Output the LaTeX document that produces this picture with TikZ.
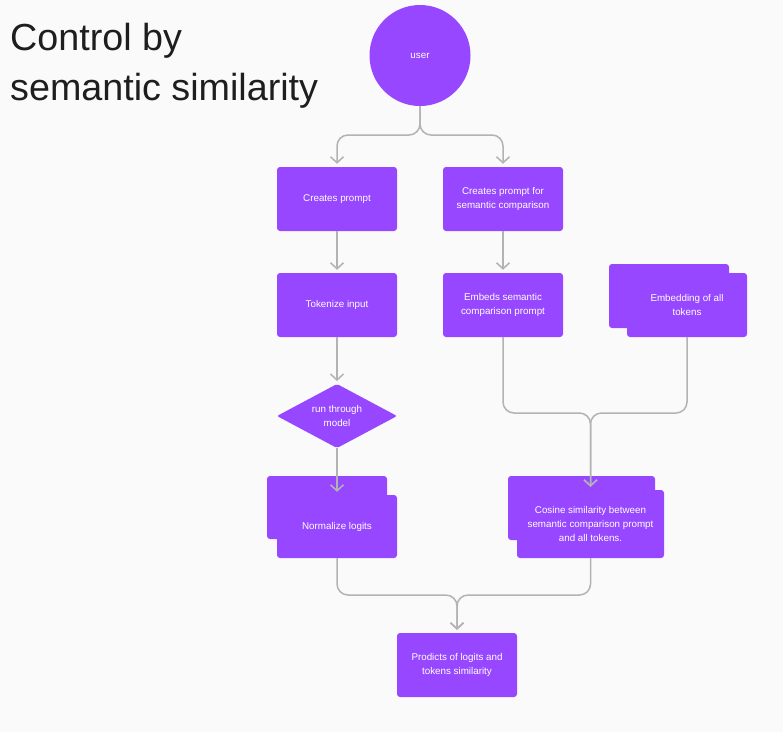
\documentclass[tikz,border=0pt]{standalone}
\usepackage{fontspec}
\setmainfont{Liberation Sans}
\usetikzlibrary{shapes.geometric,arrows.meta}
\definecolor{purp}{HTML}{9747FF}
\definecolor{conn}{HTML}{B3B3B3}
\definecolor{bg}{HTML}{FAFAFA}
\definecolor{titlec}{HTML}{1E1E1E}
\begin{document}
\begin{tikzpicture}[x=1pt,y=-1pt,
  boxtext/.style={text=white, font=\fontsize{9.8}{14}\selectfont, align=center},
  box/.style={boxtext, fill=purp, rounded corners=3pt, minimum width=120pt, minimum height=64pt, inner sep=0pt},
  backbox/.style={fill=purp, rounded corners=3pt, inner sep=0pt},
  titletext/.style={text=titlec, font=\fontsize{37.7}{50}\selectfont, anchor=base west, inner sep=0pt},
  link/.style={draw=conn, line width=1.5pt, rounded corners=11pt, shorten >=3pt, -{Straight Barb[length=6pt,width=13pt,line width=1.5pt]}}
]
\useasboundingbox[fill=bg] (0,0) rectangle (783,732);

\node[titletext] (t1) at (10,50) {Control by};
\node[titletext] (t2) at (10,100) {semantic similarity};

\node[circle, fill=purp, minimum size=101pt, inner sep=0pt, boxtext] (user) at (420,55.5) {user};

\node[box] (c1) at (337,199) {Creates prompt};
\node[box] (c2) at (503,199) {Creates prompt for\\semantic comparison};
\node[box] (tok) at (337,305) {Tokenize input};
\node[box] (emb) at (503,305) {Embeds semantic\\comparison prompt};

\node[backbox, minimum width=120pt, minimum height=64pt] (allB) at (669,296) {};
\node[box] (all) at (687,305) {Embedding of all\\tokens};

\node[diamond, shape aspect=1.875, fill=purp, minimum width=120pt, minimum height=64pt, inner sep=0pt, outer sep=0pt, rounded corners=2pt, boxtext] (diam) at (337,416) {run through\\model};

\node[backbox, minimum width=120pt, minimum height=63pt] (normB) at (327,507.5) {};
\node[box, minimum height=63pt] (norm) at (337,526.5) {Normalize logits};

\node[backbox, minimum width=147pt, minimum height=64pt] (cosB) at (581.5,508) {};
\node[box, minimum width=147pt, minimum height=68pt] (cos) at (590.5,524) {Cosine similarity between\\semantic comparison prompt\\and all tokens.};

\node[box] (prod) at (457,665) {Prodicts of logits and\\tokens similarity};

\coordinate (s1) at (420,135);
\coordinate (m1) at (590.5,413);
\coordinate (m2) at (457,595);

\draw[link] (user.south) -- (s1) -| (c1.north);
\draw[link] (user.south) -- (s1) -| (c2.north);
\draw[link] (c1.south) -- (tok.north);
\draw[link] (c2.south) -- (emb.north);
\draw[link] (tok.south) -- (diam.north);
\draw[link] (diam.south) -- (norm.north);
\draw[link] (emb.south) |- (m1) -- (cos.north);
\draw[link] (all.south) |- (m1) -- (cos.north);
\draw[link] (norm.south) |- (m2) -- (prod.north);
\draw[link] (cos.south) |- (m2) -- (prod.north);
\end{tikzpicture}
\end{document}
